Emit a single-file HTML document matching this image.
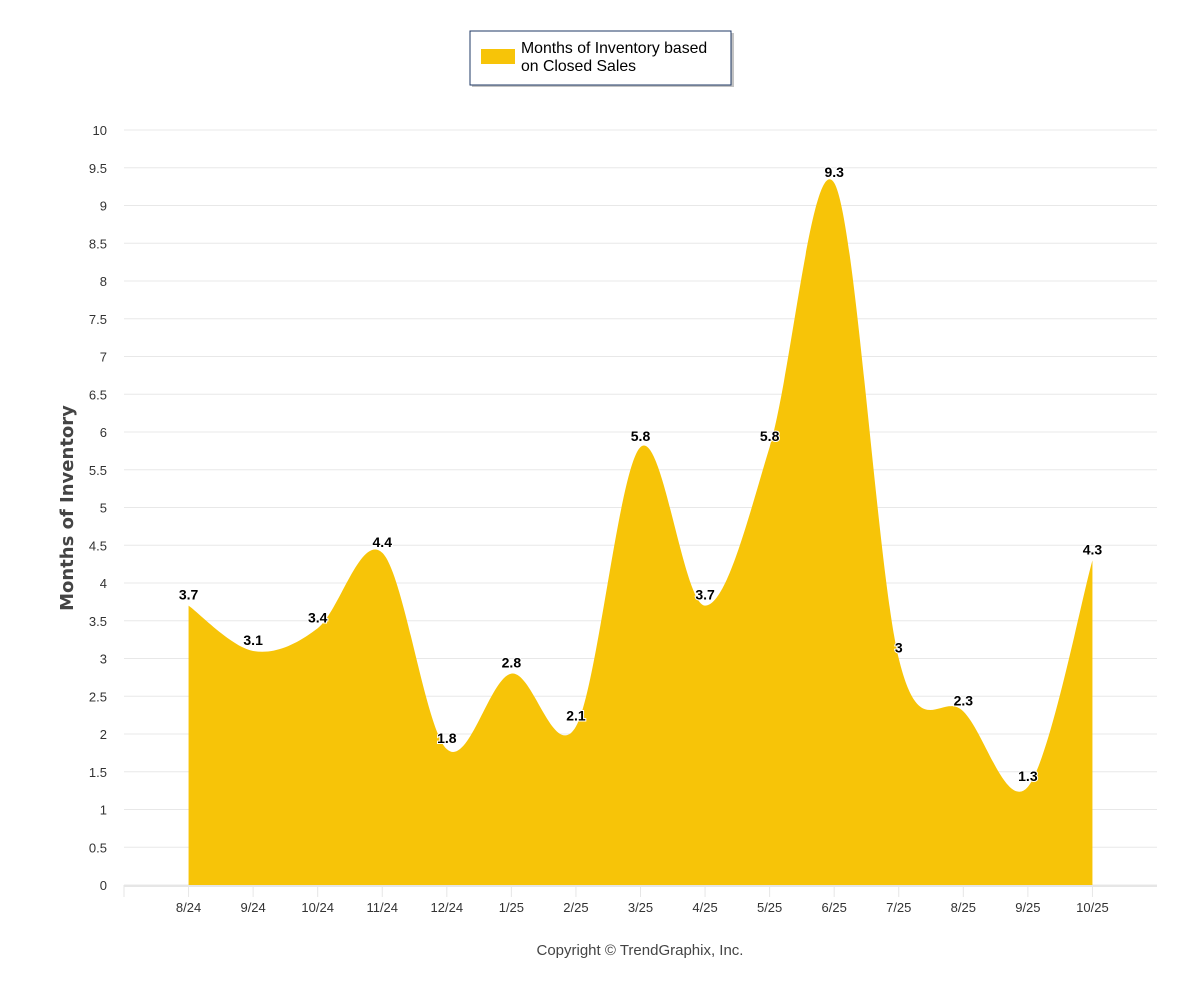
<!DOCTYPE html>
<html><head><meta charset="utf-8"><style>
body{margin:0;background:#fff;font-family:"Liberation Sans",sans-serif}
svg{display:block}
</style></head><body>
<svg id="chart" width="1200" height="1000" xmlns="http://www.w3.org/2000/svg">
<g>
<rect x="472" y="33" width="262" height="54" fill="#888" opacity="0.5"/>
<rect x="470" y="31" width="261" height="54" fill="#fff" stroke="#1f3864" stroke-width="1"/>
<rect x="481" y="49" width="34" height="15" fill="#f7c408"/>
<text x="521" y="53" font-size="15.8" fill="#000">Months of Inventory based</text>
<text x="521" y="71" font-size="15.8" fill="#000">on Closed Sales</text>
</g>
<g id="grid"></g>
<g id="area"></g>
<g id="xaxis"></g>
<g id="labels"></g>
<text x="73" y="508" transform="rotate(-90 73 508)" text-anchor="middle" font-size="18" font-weight="bold" fill="#444" font-family="'DejaVu Sans',sans-serif">Months of Inventory</text>
<text x="640" y="955" text-anchor="middle" font-size="15" fill="#444">Copyright © TrendGraphix, Inc.</text>
</svg>
<script>
const categories=["8/24","9/24","10/24","11/24","12/24","1/25","2/25","3/25","4/25","5/25","6/25","7/25","8/25","9/25","10/25"];
const values=[3.7,3.1,3.4,4.4,1.8,2.8,2.1,5.8,3.7,5.8,9.3,3,2.3,1.3,4.3];
const yTicks=[0,0.5,1,1.5,2,2.5,3,3.5,4,4.5,5,5.5,6,6.5,7,7.5,8,8.5,9,9.5,10];
const NS="http://www.w3.org/2000/svg";
const X0=124,X1=1157,Y0=885,Y10=130;
const step=(X1-X0)/16;
function xs(i){return X0+step*(i+1);}
function ys(v){return Y0-(v/10)*(Y0-Y10);}
function mk(tag,attrs,parent){const e=document.createElementNS(NS,tag);for(const k in attrs)e.setAttribute(k,attrs[k]);parent.appendChild(e);return e;}
const grid=document.getElementById('grid');
yTicks.forEach(t=>{
  const l=mk('line',{x1:X0,x2:X1,y1:ys(t),y2:ys(t),stroke:'#e8e8e8','stroke-width':1},grid);
  
  
  const tx=mk('text',{x:107,y:ys(t)+5,'text-anchor':'end','font-size':13,fill:'#333'},grid);
  tx.textContent=t;
  
  
});
// Catmull-Rom spline
const pts=values.map((v,i)=>[xs(i),ys(v)]);
const n=pts.length;
function P(i){return pts[Math.max(0,Math.min(n-1,i))];}
let d=`M${pts[0][0]},${Y0} L${pts[0][0]},${pts[0][1]}`;
for(let i=0;i<n-1;i++){
  const p0=P(i-1),p1=P(i),p2=P(i+1),p3=P(i+2);
  const c1=[p1[0]+(p2[0]-p0[0])/6,p1[1]+(p2[1]-p0[1])/6];
  const c2=[p2[0]-(p3[0]-p1[0])/6,p2[1]-(p3[1]-p1[1])/6];
  d+=` C${c1[0]},${c1[1]} ${c2[0]},${c2[1]} ${p2[0]},${p2[1]}`;
}
d+=` L${pts[n-1][0]},${Y0} Z`;
const area=mk('path',{d:d,fill:'#f7c408'},document.getElementById('area'));


const xa=document.getElementById('xaxis');
const al=mk('line',{x1:X0,x2:X1,y1:Y0+1,y2:Y0+1,stroke:'#e6e6e6','stroke-width':2},xa);


const t0=mk('line',{x1:X0,x2:X0,y1:Y0,y2:Y0+12,stroke:'#e6e6e6'},xa);


categories.forEach((c,i)=>{
  const t=mk('line',{x1:xs(i),x2:xs(i),y1:Y0,y2:Y0+12,stroke:'#e6e6e6'},xa);
  
  
  const tx=mk('text',{x:xs(i),y:Y0+27,'text-anchor':'middle','font-size':13,fill:'#333'},xa);
  tx.textContent=c;
  
  
});
const lg=document.getElementById('labels');
values.forEach((v,i)=>{
  const tx=mk('text',{x:xs(i),y:ys(v)-6,'text-anchor':'middle','font-size':14,'font-weight':'bold',fill:'#000',stroke:'#fff','stroke-width':2,'paint-order':'stroke'},lg);
  tx.textContent=v;
  
  
});
</script>
</body></html>
